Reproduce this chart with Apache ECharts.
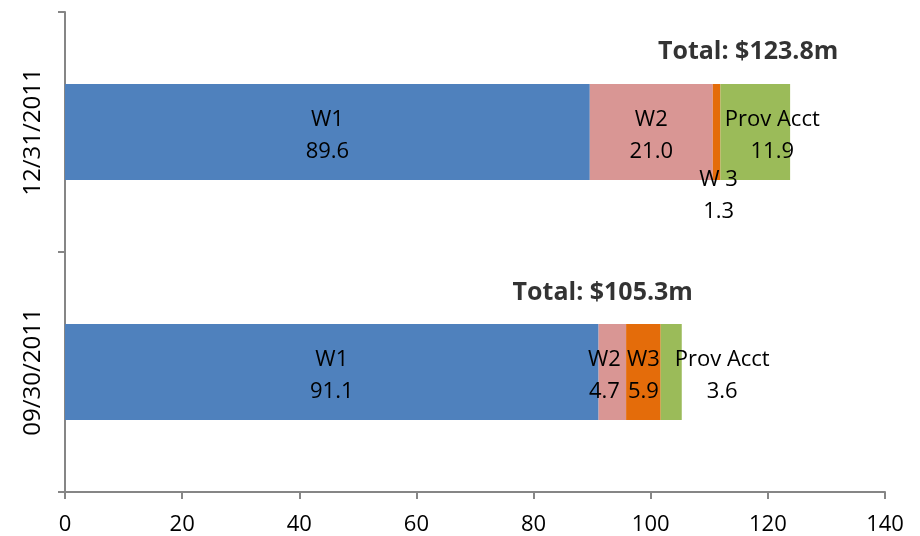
<!DOCTYPE html>
<html lang="en">
<head>
    <meta charset="UTF-8">
    <title>Totals by quarter</title>
    <script src="https://cdn.jsdelivr.net/npm/echarts@6/dist/echarts.min.js"></script>
    <style>
        html, body { margin: 0; padding: 0; background: #fff; }
    </style>
</head>
<body>
<div id="main" style="width:920px;height:536px;"></div>
<script>
    var dates = ['09/30/2011', '12/31/2011'];
    var w1 = [91.1, 89.6];
    var w2 = [4.7, 21.0];
    var w3 = [5.9, 1.3];
    var prov = [3.6, 11.9];
    var totals = [105.3, 123.8];
    var xTicks = [0, 20, 40, 60, 80, 100, 120, 140];

    var font = 'Open Sans';
    var axisGrey = '#868686';

    function labelStyle(extra) {
        var base = {
            show: true,
            position: 'inside',
            color: '#000',
            fontFamily: font,
            fontSize: 22,
            lineHeight: 32,
            offset: [0, 4]
        };
        for (var k in extra) base[k] = extra[k];
        return base;
    }

    function segData(values, name, perItem) {
        return values.map(function (v, i) {
            var lab = labelStyle({formatter: name + '\n' + v.toFixed(1)});
            var o = perItem && perItem[i];
            if (o) {
                for (var k in o) lab[k] = o[k];
            }
            return {value: v, label: lab};
        });
    }

    var chart = echarts.init(document.getElementById('main'));
    var option = {
        animation: false,
        grid: {left: 65, right: 35, top: 12, bottom: 44, containLabel: false},
        xAxis: {
            type: 'value',
            min: xTicks[0],
            max: xTicks[xTicks.length - 1],
            interval: 20,
            axisLine: {show: true, lineStyle: {color: axisGrey, width: 2}},
            axisTick: {show: true, length: 7, lineStyle: {color: axisGrey, width: 2}},
            splitLine: {show: false},
            axisLabel: {color: '#000', fontFamily: font, fontSize: 22, margin: 22}
        },
        yAxis: {
            type: 'category',
            data: dates,
            axisLine: {show: true, lineStyle: {color: axisGrey, width: 2}},
            axisTick: {show: true, length: 7, lineStyle: {color: axisGrey, width: 2}},
            axisLabel: {color: '#000', fontFamily: font, fontSize: 24, rotate: 90, margin: 20}
        },
        series: [
            {
                name: 'W1', type: 'bar', stack: 'q', barWidth: 96,
                itemStyle: {color: '#4F81BD'},
                data: segData(w1, 'W1')
            },
            {
                name: 'W2', type: 'bar', stack: 'q',
                itemStyle: {color: '#D99694'},
                data: segData(w2, 'W2', [{offset: [-8, 4]}, null])
            },
            {
                name: 'W3', type: 'bar', stack: 'q',
                itemStyle: {color: '#E46C0A'},
                data: segData(w3, 'W3', [null, {formatter: 'W 3\n' + w3[1].toFixed(1), offset: [2, 64]}])
            },
            {
                name: 'Prov Acct', type: 'bar', stack: 'q',
                itemStyle: {color: '#9BBB59'},
                data: segData(prov, 'Prov Acct', [{offset: [51, 4]}, {offset: [17, 4]}])
            },
            {
                name: 'Total', type: 'scatter', symbolSize: 0,
                data: totals.map(function (t, i) {
                    return {
                        value: [t, dates[i]],
                        label: {
                            show: true,
                            position: 'inside',
                            formatter: 'Total: $' + t.toFixed(1) + 'm',
                            color: '#000',
                            fontFamily: font,
                            fontWeight: 'bold',
                            fontSize: 25,
                            offset: i === 0 ? [-79, -79] : [-42, -80]
                        }
                    };
                })
            }
        ]
    };
    chart.setOption(option);
</script>
</body>
</html>
